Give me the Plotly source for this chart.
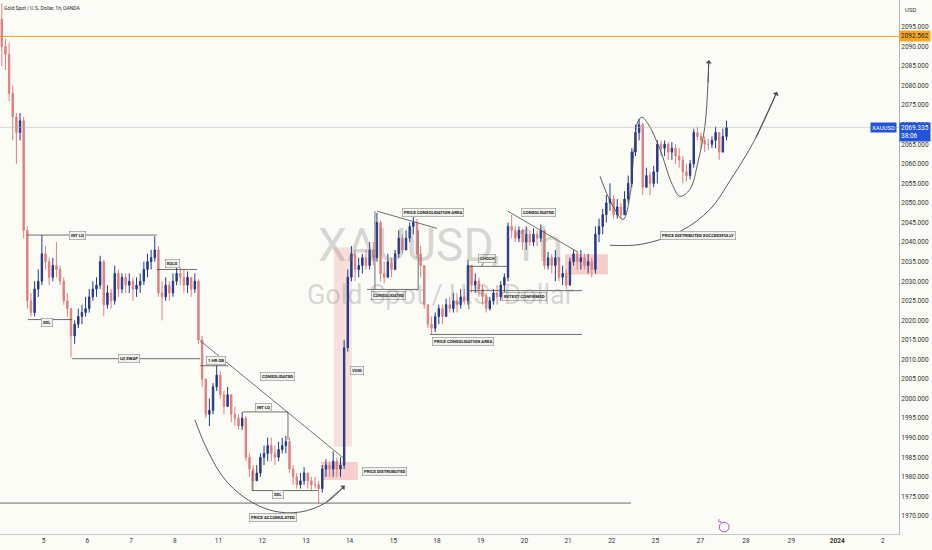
import plotly.graph_objects as go

# ---------------- data ----------------
bars_per_day = 12          # 2-hour candles
day_labels = ['4', '5', '6', '7', '8', '11', '12', '13', '14', '15', '18', '19',
              '20', '21', '22', '25', '27', '28', '29', '<b>2024</b>', '2']
day_ticks = [0, 1, 2, 3, 4, 5, 6, 7, 8, 9, 10, 11, 12, 13, 14, 15,
             16.03, 17.07, 18.11, 19.16, 20.2]

first_open = 2097.0
closes = [
    # Dec 4
    2090, 2088, 2078, 2072, 2068, 2071, 2043, 2025, 2022, 2028, 2030, 2037,
    # Dec 5
    2035, 2031, 2034, 2033, 2030, 2025, 2023, 2016, 2019, 2021, 2022, 2023,
    # Dec 6
    2026, 2028, 2029, 2035, 2024, 2027, 2025, 2032, 2028, 2031, 2029, 2030,
    # Dec 7
    2028, 2029, 2030, 2033, 2035, 2036, 2038, 2027, 2026, 2029, 2027, 2030,
    # Dec 8
    2032, 2031, 2029, 2031, 2028, 2030, 2015, 2005, 1996, 1997, 2003, 2006,
    # Dec 11
    2001, 1998, 2001, 1996, 1995, 1993, 1995, 1985, 1982, 1979, 1981, 1985,
    # Dec 12
    1986, 1988, 1986, 1985, 1987, 1988, 1989, 1982, 1980, 1978, 1979, 1981,
    # Dec 13
    1979, 1978, 1978, 1977, 1982, 1983, 1982, 1984, 1982, 1983, 2013, 2031,
    # Dec 14
    2037, 2033, 2034, 2036, 2034, 2038, 2036, 2045, 2032, 2031, 2035, 2033,
    # Dec 15
    2037, 2041, 2038, 2041, 2044, 2045, 2037, 2034, 2024, 2019, 2018, 2021,
    # Dec 18
    2023, 2021, 2024, 2023, 2025, 2024, 2026, 2025, 2034, 2029, 2030, 2028,
    # Dec 19
    2026, 2023, 2025, 2027, 2026, 2029, 2031, 2044, 2043, 2041, 2043, 2040,
    # Dec 20
    2042, 2040, 2042, 2041, 2043, 2034, 2036, 2034, 2036, 2031, 2032, 2029,
    # Dec 21
    2035, 2037, 2035, 2036, 2034, 2035, 2033, 2042, 2044, 2047, 2050, 2051,
    # Dec 22
    2047, 2049, 2047, 2051, 2055, 2063, 2068, 2070, 2054, 2057, 2055, 2058,
    # Dec 25/26
    2065, 2064, 2065, 2063, 2064, 2062, 2061, 2058, 2057, 2060, 2068, 2067,
    # Dec 27
    2066, 2065, 2065, 2066, 2068, 2063, 2067, 2069.335,
]
highs = [
    2101, 2092, 2091, 2080, 2073, 2073, 2072, 2044, 2027, 2030, 2033, 2041.8,
    2039, 2036, 2036, 2040, 2034, 2031, 2027, 2023, 2020, 2023, 2024, 2026,
    2028, 2030, 2031, 2036.5, 2035.5, 2029, 2028, 2034, 2033, 2032, 2032, 2032,
    2031, 2031, 2032, 2035, 2037, 2038, 2041.5, 2039, 2030, 2031, 2030, 2032,
    2033.5, 2033.5, 2033, 2032.5, 2031, 2032, 2030.5, 2016, 2005, 2000, 2004, 2008.5,
    2007, 2002, 2003, 2001, 1998, 1996, 1996.6, 1995.5, 1986, 1983, 1983, 1986,
    1988, 1990, 1990, 1988, 1989, 1990, 1990.5, 1990, 1983, 1981, 1981, 1982.5,
    1981, 1980, 1980, 1979, 1983, 1984.5, 1984, 1986.5, 1985, 1985, 2015, 2033,
    2039, 2038, 2036, 2037, 2038, 2040, 2040, 2047.5, 2045.5, 2035, 2037, 2036,
    2038, 2043, 2042, 2043, 2045, 2046.5, 2046, 2039, 2034, 2024, 2021, 2022,
    2024, 2024, 2025.5, 2026, 2027, 2027, 2028, 2028, 2035.5, 2034, 2032, 2031,
    2029, 2027, 2026, 2028, 2029, 2030, 2032, 2045, 2047, 2044, 2044, 2043.5,
    2044, 2043, 2043.5, 2043, 2044.5, 2043, 2037.5, 2037, 2038, 2035, 2034, 2033,
    2036, 2038, 2037.5, 2038, 2037, 2037, 2036, 2044, 2046, 2048.5, 2052, 2055,
    2052, 2051, 2050, 2053, 2057, 2064, 2070, 2071.5, 2070.5, 2059, 2058, 2059.5,
    2066, 2066, 2066, 2065.5, 2065.5, 2065, 2064, 2062, 2060, 2061, 2069, 2069.5,
    2068, 2067, 2066.5, 2067, 2069.5, 2068, 2069, 2071,
]
lows = [
    2085, 2084, 2076, 2066, 2060, 2066, 2041, 2023, 2021, 2021, 2026, 2029,
    2033, 2029, 2030, 2031, 2029, 2024, 2021, 2010.5, 2014, 2018, 2019, 2021,
    2022, 2025, 2026, 2028, 2021, 2023, 2023, 2024, 2026, 2027, 2027, 2027,
    2025, 2026, 2027, 2029, 2031, 2033, 2035, 2026, 2020, 2025, 2025, 2026,
    2029, 2029, 2027, 2027, 2026, 2027, 2014, 2003, 1995, 1993, 1996, 2002,
    2000, 1996, 1998, 1994, 1993, 1992, 1992, 1984, 1980, 1976.5, 1979, 1980,
    1983, 1984, 1984, 1983, 1984, 1986, 1986, 1981, 1978, 1977, 1977, 1978,
    1977, 1976.5, 1977, 1973.3, 1976, 1980, 1980, 1980, 1980, 1980, 1982, 2012,
    2030, 2030, 2031, 2032, 2033, 2033, 2034, 2035, 2030, 2029.5, 2031, 2031,
    2033, 2036, 2037, 2038, 2040, 2042, 2036, 2031, 2023, 2018, 2016.5, 2017,
    2019, 2019, 2021, 2022, 2022, 2022, 2023, 2024, 2024, 2027, 2027, 2026,
    2024, 2022, 2022.5, 2024, 2024, 2025, 2027, 2030, 2041, 2040, 2040, 2038,
    2038, 2039, 2039, 2039, 2040, 2033, 2033, 2032, 2030, 2030, 2029, 2028,
    2029, 2034, 2033, 2033, 2033, 2032, 2031, 2032, 2040, 2042, 2045, 2048,
    2046, 2046, 2046, 2047, 2050, 2054, 2062, 2066, 2052, 2054, 2052, 2054,
    2055, 2062, 2062, 2061, 2061, 2060, 2059, 2055, 2055.5, 2056, 2059, 2066,
    2064, 2063, 2063.5, 2064, 2064, 2061, 2064, 2066,
]
last_price = 2069.335
alert_price = 2092.562
y_ticks = list(range(1970, 2100, 5))

# ---------------- figure ----------------
opens = [first_open] + closes[:-1]
xs = [(i + 0.5) / bars_per_day for i in range(len(closes))]

UP = '#22398a'
DN = '#e07f7f'
INK = '#4a4a4a'
BG = '#fcfcf6'

fig = go.Figure()
fig.add_trace(go.Candlestick(
    x=xs, open=opens, high=highs, low=lows, close=closes,
    increasing=dict(line=dict(color=UP, width=1), fillcolor=UP),
    decreasing=dict(line=dict(color=DN, width=1), fillcolor=DN),
    whiskerwidth=0, hoverinfo='skip', showlegend=False))

shapes = []


def seg(x0, y0, x1, y1, color=INK, width=0.8):
    shapes.append(dict(type='line', xref='x', yref='y', x0=x0, y0=y0, x1=x1, y1=y1,
                       line=dict(color=color, width=width), layer='above'))


def box(x0, y0, x1, y1, fill):
    shapes.append(dict(type='rect', xref='x', yref='y', x0=x0, y0=y0, x1=x1, y1=y1,
                       fillcolor=fill, line=dict(width=0), layer='below'))


annotations = []


def label(x, y, text):
    annotations.append(dict(x=x, y=y, xref='x', yref='y', text='<b>%s</b>' % text,
                            showarrow=False, font=dict(size=4.3, color='#222', family='Roboto'),
                            bgcolor='#f2f2ec', bordercolor='#8a8a8a', borderwidth=0.6,
                            borderpad=1.3))


def curve(pts):
    fig.add_trace(go.Scatter(x=[p[0] for p in pts], y=[p[1] for p in pts], mode='lines',
                             line=dict(color=INK, width=0.9, shape='spline', smoothing=1.0),
                             hoverinfo='skip', showlegend=False))
    annotations.append(dict(x=pts[-1][0], y=pts[-1][1], ax=pts[-2][0], ay=pts[-2][1],
                            xref='x', yref='y', axref='x', ayref='y', text='',
                            showarrow=True, arrowhead=1, arrowsize=1.2, arrowwidth=0.9,
                            arrowcolor=INK))


# full-width levels
shapes.append(dict(type='line', xref='paper', yref='y', x0=0, x1=1, y0=alert_price, y1=alert_price,
                   line=dict(color='#f29d1f', width=1)))
shapes.append(dict(type='line', xref='paper', yref='y', x0=0, x1=1, y0=last_price, y1=last_price,
                   line=dict(color='#b8b8b8', width=0.6)))

# pink zones
box(7.64, 1987.7, 8.05, 2038.6, 'rgba(244,170,170,0.35)')   # void
box(7.35, 1979.2, 8.19, 1983.8, 'rgba(240,150,150,0.45)')   # price distributed
box(12.93, 2031.7, 13.91, 2036.9, 'rgba(240,150,150,0.45)')

# left side
seg(0, 1973.3, 14.44, 1973.3)
seg(0.62, 2041.8, 3.59, 2041.8); label(1.78, 2041.8, 'INT LQ')
seg(0.64, 2020.2, 1.65, 2020.2); label(1.08, 2019.4, 'SSL')
seg(1.65, 2010.2, 4.58, 2010.2); label(2.95, 2010.2, 'LQ SWAP')
seg(3.59, 2033.0, 4.51, 2033.0); label(3.94, 2034.5, 'EQLS')
seg(4.58, 2008.4, 5.22, 2008.4); label(4.94, 2009.7, '1 HR OB')
seg(4.58, 2014.8, 7.85, 1984.9); label(6.34, 2005.6, 'CONSOLIDATED')
seg(5.56, 1996.6, 6.59, 1996.6); seg(6.59, 1996.6, 6.59, 1989.5); label(6.02, 1997.7, 'INT LQ')
seg(5.77, 1976.5, 7.28, 1976.5); seg(5.77, 1976.5, 5.77, 1981.5); label(6.36, 1975.4, 'SSL')
label(8.79, 1981.5, 'PRICE DISTRUBUTED')
label(8.17, 2007.1, 'VOID')
curve([(4.46, 1994.6), (4.69, 1988.2), (5.10, 1980.0), (5.61, 1974.6), (6.25, 1971.3),
       (6.86, 1971.0), (7.44, 1973.3), (7.89, 1977.7)])
label(6.25, 1969.5, 'PRICE ACCUMULATED')

# middle
seg(8.63, 2047.9, 10.0, 2043.5)
seg(8.58, 2047.9, 8.58, 2027.9)
seg(9.57, 2043.0, 9.57, 2027.9)
seg(8.40, 2027.9, 9.57, 2027.9)
label(9.91, 2047.6, 'PRICE CONSOLIDATION AREA')
label(8.90, 2026.4, 'CONSOLIDATED')
seg(9.84, 2016.4, 13.32, 2016.4); label(10.59, 2014.6, 'PRICE CONSOLIDATION AREA')
seg(10.73, 2022.8, 10.73, 2033.8); seg(10.73, 2033.8, 11.62, 2033.8)
seg(11.02, 2033.9, 11.09, 2035.2)
label(11.14, 2035.8, 'CHOCH')
seg(10.75, 2027.6, 13.32, 2027.6); label(12.01, 2026.1, 'RETEST CONFIRMED')
seg(11.62, 2047.9, 13.23, 2037.4); label(12.33, 2047.6, 'CONSOLIDATED')

# right side
curve([(13.73, 2056.8), (14.00, 2049.7), (14.26, 2045.8), (14.42, 2052.2), (14.51, 2063.8),
       (14.60, 2070.9), (14.69, 2071.9), (14.83, 2070.2), (15.10, 2063.8), (15.38, 2054.8),
       (15.56, 2051.7), (15.79, 2053.5), (15.97, 2060.4), (16.13, 2069.6), (16.20, 2080.4),
       (16.22, 2086.5)])
curve([(13.96, 2039.2), (14.65, 2039.4), (15.56, 2042.7), (16.25, 2048.4), (16.70, 2055.6),
       (17.28, 2066.3), (17.78, 2078.4)])
label(15.97, 2041.7, 'PRICE DISTRIBUTED SUCCESSFULLY')

# watermark
annotations.append(dict(x=0.49, y=0.5, xref='paper', yref='paper', yshift=22,
                        text='XAUUSD, 1h', showarrow=False,
                        font=dict(size=46, color='rgba(120,120,120,0.30)',
                                  family='Liberation Sans Narrow, Roboto')))
annotations.append(dict(x=0.49, y=0.5, xref='paper', yref='paper', yshift=-28,
                        text='Gold Spot / U.S. Dollar', showarrow=False,
                        font=dict(size=27, color='rgba(120,120,120,0.30)',
                                  family='Liberation Sans Narrow, Roboto')))

# header + axis extras
annotations.append(dict(x=0, y=1, xref='paper', yref='paper', xanchor='left', yanchor='top',
                        xshift=2, yshift=-3, text='Gold Spot / U.S. Dollar, 1h, OANDA',
                        showarrow=False, font=dict(size=5, color='#222', family='Roboto')))
annotations.append(dict(x=1, y=1, xref='paper', yref='paper', xanchor='left', yanchor='top',
                        xshift=4, yshift=-4, text='USD', showarrow=False,
                        font=dict(size=6, color='#333', family='Roboto')))
annotations.append(dict(x=1, y=alert_price, xref='paper', yref='y', xanchor='left',
                        text='%.3f' % alert_price, showarrow=False, bgcolor='#f5a623',
                        borderpad=1, font=dict(size=6.5, color='#222', family='Roboto')))
annotations.append(dict(x=1, y=last_price, xref='paper', yref='y', xanchor='left', yanchor='top',
                        yshift=5, text='%.3f<br>38:06' % last_price, showarrow=False,
                        bgcolor='#2154d6', borderpad=1, align='left',
                        font=dict(size=6.5, color='white', family='Roboto')))
annotations.append(dict(x=1, y=last_price, xref='paper', yref='y', xanchor='right',
                        xshift=-2, text='XAUUSD', showarrow=False, bgcolor='#2154d6',
                        borderpad=1, font=dict(size=6, color='white', family='Roboto')))
shapes.append(dict(type='circle', xref='paper', yref='paper', x0=0.800, x1=0.811,
                   y0=0.004, y1=0.022, line=dict(color='#9c27b0', width=0.8), fillcolor='white'))
annotations.append(dict(x=0.8055, y=0.013, xref='paper', yref='paper', text='ϟ', showarrow=False,
                        font=dict(size=6, color='#9c27b0')))

fig.update_layout(
    width=932, height=550, margin=dict(l=0, r=33, t=0, b=16),
    paper_bgcolor=BG, plot_bgcolor=BG, showlegend=False,
    shapes=shapes, annotations=annotations, boxgap=0.45,
    xaxis=dict(range=[0, 899 / 43.7], tickvals=day_ticks, ticktext=day_labels,
               showgrid=False, zeroline=False, showline=True, linecolor='#c9c9c9',
               linewidth=1, ticks='', tickfont=dict(size=6.5, color='#333', family='Roboto'),
               rangeslider=dict(visible=False), fixedrange=True),
    yaxis=dict(range=[1965.4, 2101.87], side='right', tickvals=y_ticks, tickformat='.3f',
               showgrid=False, zeroline=False, showline=True, linecolor='#b5b5b5',
               linewidth=1, ticks='', tickfont=dict(size=6.5, color='#333', family='Roboto')),
)

fig.write_html('out.html', config={'displayModeBar': False},
               post_script="document.body.style.margin='0';document.body.style.background='%s';" % BG)
